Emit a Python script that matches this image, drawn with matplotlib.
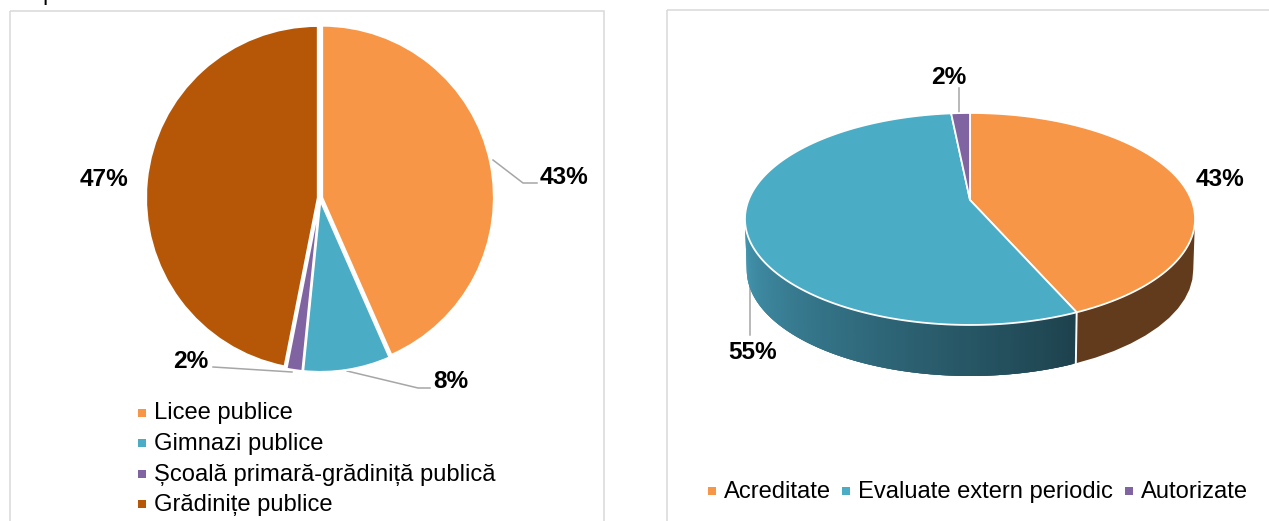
import matplotlib
matplotlib.use("Agg")
import matplotlib.pyplot as plt
import numpy as np
from matplotlib.patches import Rectangle

W, H = 1269, 521

left_names = ["Licee publice", "Gimnazi publice", "Școală primară-grădiniță publică", "Grădinițe publice"]
left_values = [43.4, 8.2, 1.5, 46.9]
left_labels = ["43%", "8%", "2%", "47%"]
left_colors = ["#F79646", "#4BACC6", "#8064A2", "#B65708"]

right_names = ["Acreditate", "Evaluate extern periodic", "Autorizate"]
right_values = [43.4, 55.0, 1.6]
right_labels = ["43%", "55%", "2%"]
right_colors = ["#F79646", "#4BACC6", "#8064A2"]

plt.rcParams["font.family"] = ["Liberation Sans", "DejaVu Sans"]

fig = plt.figure(figsize=(W / 100, H / 100), dpi=100)

# overlay in pixel coordinates, y going down
ov = fig.add_axes([0, 0, 1, 1])
ov.set_xlim(0, W)
ov.set_ylim(H, 0)
ov.axis("off")

ov.add_patch(Rectangle((9.5, 11), 594.5, 520, fill=False, ec="#d9d9d9", lw=1.1, clip_on=False))
ov.add_patch(Rectangle((666.5, 10), 640, 520, fill=False, ec="#d9d9d9", lw=1.1, clip_on=True))
ov.text(42, 0, "p", fontsize=17, va="baseline", ha="left", color="black")

# left pie
cx, cy, r = 320, 198, 172
ax = fig.add_axes([(cx - r) / W, 1 - (cy + r) / H, 2 * r / W, 2 * r / H])
ax.pie(
    left_values,
    colors=left_colors,
    startangle=90,
    counterclock=False,
    explode=[0.012, 0.012, 0.012, 0.012],
    wedgeprops={"edgecolor": "white", "linewidth": 1.6},
)
ax.set_xlim(-1, 1)
ax.set_ylim(-1, 1)
for p in ax.patches:
    p.set_clip_on(False)


def leader(xs, ys):
    ov.plot(xs, ys, color="#a6a6a6", lw=1.1, zorder=1)


def bold(x, y, s):
    ov.text(x, y, s, fontsize=17.6, fontweight="bold", ha="center", va="center", color="black", zorder=6)


leader([493, 523, 537], [160, 183, 183])
leader([347, 418, 430], [371, 388, 388])
leader([213, 292], [367, 372])
bold(564, 177.5, left_labels[0])
bold(451, 381, left_labels[1])
bold(191, 362, left_labels[2])
bold(104, 179.5, left_labels[3])

for name, col, y, base in zip(left_names, left_colors, [413, 443, 474, 504], [419.5, 450, 481, 511.5]):
    ov.add_patch(Rectangle((138, y - 4), 8, 8, fc=col, ec="none"))
    ov.text(154, base, name, fontsize=17.1, va="baseline", ha="left", color="black")

# right pie: perspective disc, drawn from the shares
px, py, ax_a = 970, 200, 221.4
k, a = 0.179, -66.8
depth = 51


def project(theta):
    u, v = np.sin(theta), np.cos(theta)
    den = 1 + k * v
    return px + ax_a * u / den, (a * v + py) / den


shares = np.array(right_values) / sum(right_values)
edges = np.concatenate([[0], np.cumsum(shares)]) * 2 * np.pi
theta_r = np.arccos(-k)
theta_l = 2 * np.pi - theta_r


def wall(t0, t1):
    ts = np.linspace(t0, t1, 12)
    xs, ys = project(ts)
    xb = px + (xs - px) * 0.992
    return np.r_[xs, xb[::-1]], np.r_[ys, ys[::-1] + depth]


# orange wall
xs, ys = wall(theta_r, edges[1])
ov.fill(xs, ys, color="#623A1C", lw=0, zorder=2)

# teal wall with gradient, each piece overlaps the next one to hide seams
ts = np.linspace(edges[1], theta_l, 160)
dark = np.array([0x1E, 0x42, 0x4E]) / 255
light = np.array([0x44, 0x98, 0xB2]) / 255
for i in range(len(ts) - 1):
    t_end = ts[min(i + 3, len(ts) - 1)]
    xs, ys = wall(ts[i], t_end)
    col = dark + (light - dark) * (i / (len(ts) - 2))
    ov.fill(xs, ys, color=col, lw=0, zorder=2)

# white split on the wall
x0, y0 = project(edges[1])
ov.plot([x0, px + (x0 - px) * 0.992], [y0, y0 + depth], color="white", lw=1.4, zorder=3)

# top face
for t0, t1, col in zip(edges[:-1], edges[1:], right_colors):
    ts = np.linspace(t0, t1, 200)
    xs, ys = project(ts)
    ov.fill(np.r_[px, xs], np.r_[py, ys], fc=col, ec="white", lw=1.3, zorder=4)

leader([959, 959], [88, 113])
leader([750, 750], [273, 335])
bold(1220, 179.5, right_labels[0])
bold(753, 352.5, right_labels[1])
bold(949, 77.5, right_labels[2])

for name, col, mx, tx in zip(right_names, right_colors, [712, 846, 1129], [724, 858, 1141]):
    ov.add_patch(Rectangle((mx - 4, 487), 8, 8, fc=col, ec="none"))
    ov.text(tx, 498, name, fontsize=17.1, va="baseline", ha="left", color="black")

fig.savefig("out.png", dpi=100)
